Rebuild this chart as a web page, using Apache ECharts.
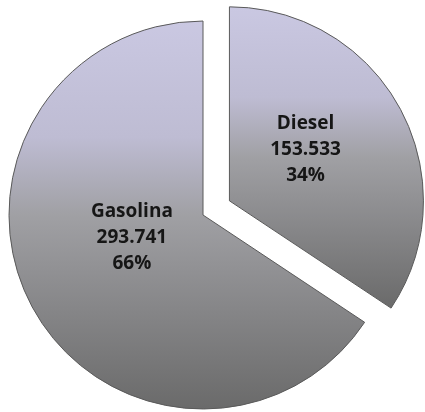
<!DOCTYPE html>
<html>
<head>
<meta charset="utf-8">
<script src="https://cdn.jsdelivr.net/npm/echarts@6/dist/echarts.min.js"></script>
<style>
  html, body { margin: 0; padding: 0; background: #ffffff; }
  #chart { width: 425px; height: 412px; }
</style>
</head>
<body>
<div id="chart"></div>
<script>
// Fuel consumption split
const fuels = ['Diesel', 'Gasolina'];
const volumes = [153.533, 293.741];
const volumeLabels = ['153.533', '293.741'];

const total = volumes.reduce((a, b) => a + b, 0);

const sliceFill = {
  type: 'linear', x: 0, y: 0, x2: 0, y2: 1,
  colorStops: [
    { offset: 0, color: '#cac8e2' },
    { offset: 0.3, color: '#bebcd3' },
    { offset: 0.5, color: '#a0a0a4' },
    { offset: 1, color: '#6a6a6a' }
  ]
};

const chart = echarts.init(document.getElementById('chart'));
chart.setOption({
  backgroundColor: '#ffffff',
  animation: false,
  series: [{
    type: 'pie',
    center: [203, 215],
    radius: 194,
    startAngle: 90,
    clockwise: true,
    selectedMode: 'single',
    selectedOffset: 30,
    itemStyle: {
      color: sliceFill,
      borderColor: '#5a5a5a',
      borderWidth: 1
    },
    emphasis: { disabled: true },
    label: {
      show: true,
      position: 'inside',
      fontFamily: 'Open Sans',
      fontWeight: 'bold',
      fontSize: 19,
      lineHeight: 26,
      color: '#161616',
      formatter: (p) => p.name + '\n' + volumeLabels[p.dataIndex] + '\n' +
        Math.round(p.value / total * 100) + '%'
    },
    labelLayout: (p) => p.dataIndex === 0 ? { dx: -12, dy: -4 } : { dx: 17, dy: -25 },
    data: fuels.map((name, i) => ({ name, value: volumes[i], selected: i === 0 }))
  }]
});
</script>
</body>
</html>
